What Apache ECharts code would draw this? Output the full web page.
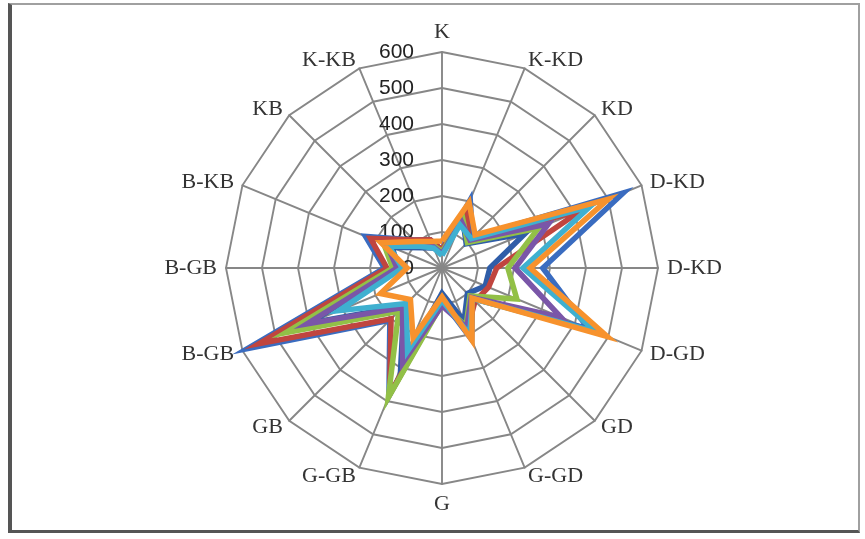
<!DOCTYPE html>
<html>
<head>
<meta charset="utf-8">
<script src="https://cdn.jsdelivr.net/npm/echarts@6/dist/echarts.min.js"></script>
<style>
  html, body { margin: 0; padding: 0; background: #fff; }
  #frame { position: absolute; left: 8px; top: 3px; width: 852px; height: 530px;
           border-left: 4px solid #555; border-bottom: 3px solid #555;
           border-top: 2px solid #a0a0a0; border-right: 2px solid #a0a0a0; box-sizing: border-box; }
  #chart { position: absolute; left: 0; top: 0; width: 865px; height: 539px; }
</style>
</head>
<body>
<div id="frame"></div>
<div id="chart"></div>
<script>
// Categories in clockwise order starting from the top
const categories = ['K', 'K-KD', 'KD', 'D-KD', 'D-KD', 'D-GD', 'GD', 'G-GD', 'G', 'G-GB', 'GB', 'B-GB', 'B-GB', 'B-KB', 'KB', 'K-KB'];
const tickLabels = [0, 100, 200, 300, 400, 500, 600];

const seriesBlue   = [50, 205, 120, 545, 280, 440, 120, 215, 90, 385, 205, 585, 160, 230, 110, 85];
const seriesRed    = [50, 175, 105, 420, 152, 140, 130, 185, 95, 380, 200, 550, 153, 215, 110, 85];
const seriesGreen  = [45, 150, 100, 290, 183, 225, 110, 175, 100, 390, 170, 470, 137, 175, 95, 70];
const seriesPurple = [40, 140, 110, 320, 203, 358, 115, 180, 105, 285, 155, 406, 125, 165, 90, 65];
const seriesCyan   = [35, 130, 115, 445, 225, 463, 120, 200, 90, 250, 140, 310, 110, 160, 85, 60];
const seriesOrange = [75, 197, 130, 500, 245, 497, 118, 218, 80, 210, 124, 185, 97, 183, 104, 80];
const seriesDkBlue = [40, 150, 95, 250, 133, 130, 100, 160, 70, 300, 150, 400, 120, 150, 80, 60];

// ECharts places radar indicators counter-clockwise; reorder to get clockwise layout
function toCCW(arr) { return [arr[0]].concat(arr.slice(1).reverse()); }

const maxVal = tickLabels[tickLabels.length - 1];
const indicators = toCCW(categories).map(function (name, i) {
  const ind = { name: name, min: tickLabels[0], max: maxVal };
  if (i === 0) {
    ind.axisLabel = { show: true };
  }
  return ind;
});

const seriesDefs = [
  { name: 'S7', values: seriesDkBlue, color: '#2f5da8' },
  { name: 'S1', values: seriesBlue, color: '#3a6cc0' },
  { name: 'S2', values: seriesRed, color: '#c0453f' },
  { name: 'S3', values: seriesGreen, color: '#92c047' },
  { name: 'S4', values: seriesPurple, color: '#7a56a8' },
  { name: 'S5', values: seriesCyan, color: '#3fb0d0' },
  { name: 'S6', values: seriesOrange, color: '#f7922d' }
];

const chart = echarts.init(document.getElementById('chart'), null, { renderer: 'canvas' });
chart.setOption({
  animation: false,
  backgroundColor: 'transparent',
  radar: {
    center: [442, 268],
    radius: 216,
    startAngle: 90,
    splitNumber: tickLabels.length - 1,
    shape: 'polygon',
    indicator: indicators,
    axisName: {
      color: '#333',
      fontFamily: 'Liberation Serif',
      fontSize: 22
    },
    nameGap: 9,
    splitArea: { show: false },
    splitLine: { lineStyle: { color: '#878787', width: 1.9 } },
    axisLine: { lineStyle: { color: '#878787', width: 1.9 } },
    axisTick: { show: false },
    axisLabel: {
      show: false,
      color: '#222',
      fontFamily: 'Liberation Sans',
      fontSize: 21,
      margin: 28,
      showMinLabel: true,
      showMaxLabel: true
    }
  },
  series: seriesDefs.map(function (s) {
    return {
      type: 'radar',
      name: s.name,
      symbol: 'none',
      lineStyle: { color: s.color, width: 5.5, join: 'miter' },
      itemStyle: { color: s.color },
      data: [{ value: toCCW(s.values), name: s.name }]
    };
  })
});
</script>
</body>
</html>
